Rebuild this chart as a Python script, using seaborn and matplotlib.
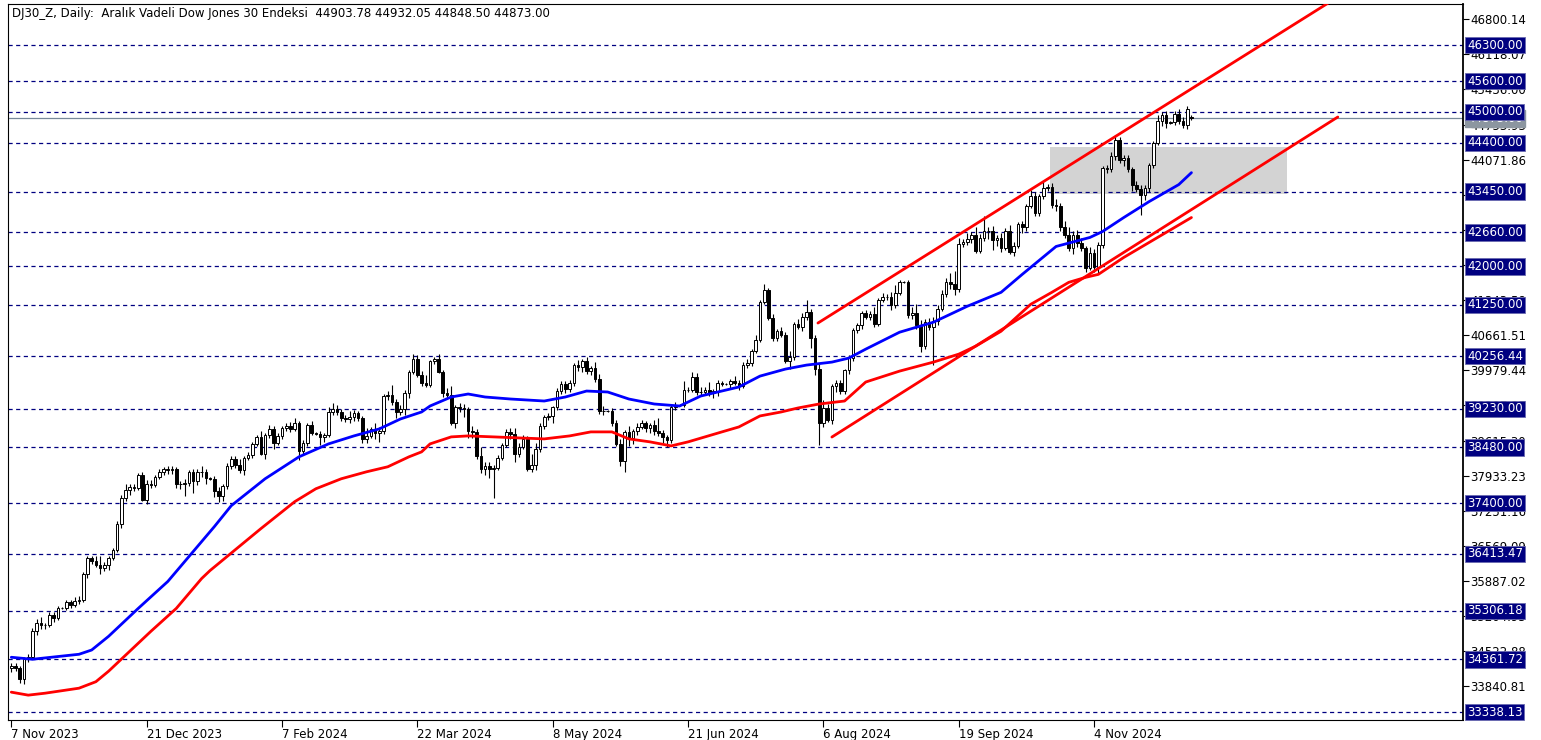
import matplotlib
matplotlib.use("Agg")
import matplotlib.pyplot as plt
from matplotlib.patches import Rectangle
import numpy as np
import seaborn as sns

sns.set_style("white")
plt.rcParams['font.family'] = ['DejaVu Sans']
plt.rcParams['lines.scale_dashes'] = False

# daily bars, DJ30 december futures (index = bar number from 7 Nov 2023)
opens = [
    34190, 34232, 34192, 33972, 34363, 34417, 34908, 35071, 35025, 35027,
    35231, 35168, 35353, 35360, 35470, 35413, 35496, 35510, 36031, 36325,
    36284, 36204, 36134, 36197, 36327, 36484, 36997, 37504, 37655, 37706,
    37701, 37946, 37464, 37780, 37755, 37908, 38013, 38061, 38033, 38053,
    37762, 37766, 37785, 37996, 37832, 37995, 38005, 37880, 37870, 37636,
    37535, 37731, 38119, 38251, 38149, 38043, 38280, 38334, 38551, 38679,
    38356, 38719, 38847, 38567, 38702, 38851, 38894, 38833, 38952, 38421,
    38567, 38910, 38758, 38750, 38682, 38723, 39174, 39230, 39161, 39058,
    39029, 39070, 39154, 39051, 38640, 38709, 38833, 38759, 38800, 39475,
    39506, 39363, 39165, 39234, 39548, 39942, 40205, 39892, 39724, 39686,
    40157, 40198, 39951, 39548, 39498, 38961, 39262, 39243, 39229, 38800,
    38790, 38308, 38053, 38111, 38058, 38073, 38278, 38525, 38782, 38733,
    38351, 38499, 38638, 38062, 38142, 38458, 38902, 39071, 39097, 39262,
    39587, 39706, 39618, 39737, 40081, 40035, 40164, 39960, 40019, 39811,
    39198, 39196, 39190, 38965, 38547, 38212, 38779, 38658, 38791, 38880,
    38953, 38859, 38921, 38794, 38752, 38681, 38616, 39258, 39308, 39301,
    39595, 39604, 39859, 39554, 39562, 39593, 39540, 39586, 39741, 39711,
    39705, 39765, 39728, 39669, 40092, 40118, 40359, 40564, 41300, 41537,
    40998, 40614, 40735, 40672, 40161, 40236, 40883, 40827, 41025, 41117,
    40616, 39999, 38959, 39247, 39006, 39683, 39728, 39581, 39984, 40219,
    40768, 40858, 41089, 41021, 41070, 40886, 41341, 41400, 41404, 41239,
    41477, 41697, 41690, 41059, 41090, 40865, 40447, 40926, 40827, 40944,
    41174, 41464, 41686, 41664, 41554, 42440, 42471, 42525, 42602, 42302,
    42555, 42686, 42696, 42515, 42549, 42357, 42691, 42285, 42404, 42829,
    42764, 43167, 43361, 43029, 43360, 43514, 43544, 43193, 43179, 42761,
    42614, 42347, 42614, 42453, 42354, 41968, 42250, 41985, 42406, 43906,
    43899, 44152, 44449, 44060, 44100, 43886, 43573, 43511, 43383, 43515,
    43970, 44390, 44823, 44940, 44794, 44800, 44969, 44833, 44749, 44903.78,
]
closes = [
    34232, 34192, 33972, 34363, 34417, 34908, 35071, 35025, 35027, 35231,
    35168, 35353, 35360, 35470, 35413, 35496, 35510, 36031, 36325, 36284,
    36204, 36134, 36197, 36327, 36484, 36997, 37504, 37655, 37706, 37701,
    37946, 37464, 37780, 37755, 37908, 38013, 38061, 38033, 38053, 37762,
    37766, 37785, 37996, 37832, 37995, 38005, 37880, 37870, 37636, 37535,
    37731, 38119, 38251, 38149, 38043, 38280, 38334, 38551, 38679, 38356,
    38719, 38847, 38567, 38702, 38851, 38894, 38833, 38952, 38421, 38567,
    38910, 38758, 38750, 38682, 38723, 39174, 39230, 39161, 39058, 39029,
    39070, 39154, 39051, 38640, 38709, 38833, 38759, 38800, 39475, 39506,
    39363, 39165, 39234, 39548, 39942, 40205, 39892, 39724, 39686, 40157,
    40198, 39951, 39548, 39498, 38961, 39262, 39243, 39229, 38800, 38790,
    38308, 38053, 38111, 38058, 38073, 38278, 38525, 38782, 38733, 38351,
    38499, 38638, 38062, 38142, 38458, 38902, 39071, 39097, 39262, 39587,
    39706, 39618, 39737, 40081, 40035, 40164, 39960, 40019, 39811, 39198,
    39196, 39190, 38965, 38547, 38212, 38779, 38658, 38791, 38880, 38953,
    38859, 38921, 38794, 38752, 38681, 38616, 39258, 39308, 39301, 39595,
    39604, 39859, 39554, 39562, 39593, 39540, 39586, 39741, 39711, 39705,
    39765, 39728, 39669, 40092, 40118, 40359, 40564, 41300, 41537, 40998,
    40614, 40735, 40672, 40161, 40236, 40883, 40827, 41025, 41117, 40616,
    39999, 38959, 39247, 39006, 39683, 39728, 39581, 39984, 40219, 40768,
    40858, 41089, 41021, 41070, 40886, 41341, 41400, 41404, 41239, 41477,
    41697, 41690, 41059, 41090, 40865, 40447, 40926, 40827, 40944, 41174,
    41464, 41686, 41664, 41554, 42440, 42471, 42525, 42602, 42302, 42555,
    42686, 42696, 42515, 42549, 42357, 42691, 42285, 42404, 42829, 42764,
    43167, 43361, 43029, 43360, 43514, 43544, 43193, 43179, 42761, 42614,
    42347, 42614, 42453, 42354, 41968, 42250, 41985, 42406, 43906, 43899,
    44152, 44449, 44060, 44100, 43886, 43573, 43511, 43383, 43515, 43970,
    44390, 44823, 44940, 44794, 44800, 44969, 44833, 44749, 45051, 44873.00,
]
# shadow lengths above / below the body (index points)
upper_shadow = [
    60, 70, 40, 40, 50, 60, 80, 110, 40, 50,
    60, 50, 20, 40, 40, 70, 90, 30, 40, 50,
    90, 160, 60, 40, 40, 60, 50, 120, 60, 70,
    40, 60, 60, 60, 40, 50, 40, 60, 60, 40,
    60, 80, 40, 70, 60, 110, 60, 20, 50, 80,
    40, 50, 70, 60, 100, 40, 60, 40, 50, 120,
    40, 70, 60, 60, 50, 60, 80, 110, 50, 60,
    50, 90, 20, 50, 40, 90, 110, 70, 70, 50,
    110, 60, 40, 40, 150, 40, 130, 70, 40, 70,
    180, 60, 80, 40, 40, 100, 70, 70, 160, 30,
    40, 90, 30, 90, 170, 50, 90, 80, 40, 100,
    40, 180, 90, 80, 70, 60, 40, 60, 70, 120,
    60, 90, 60, 210, 100, 60, 40, 50, 30, 40,
    60, 60, 50, 40, 100, 40, 80, 40, 120, 100,
    90, 20, 60, 50, 90, 40, 120, 40, 70, 60,
    50, 40, 90, 250, 60, 50, 60, 60, 20, 170,
    60, 80, 60, 100, 70, 160, 40, 50, 30, 20,
    40, 100, 60, 40, 90, 40, 110, 50, 110, 40,
    70, 50, 90, 60, 110, 40, 90, 60, 220, 60,
    50, 120, 150, 70, 40, 60, 60, 30, 60, 40,
    50, 40, 60, 60, 140, 50, 90, 60, 100, 160,
    40, 20, 40, 110, 170, 90, 60, 70, 80, 80,
    70, 90, 180, 250, 120, 60, 130, 70, 160, 70,
    300, 60, 90, 60, 100, 60, 120, 60, 40, 60,
    40, 120, 90, 40, 150, 50, 80, 120, 60, 110,
    150, 70, 100, 90, 40, 130, 90, 60, 40, 60,
    60, 110, 60, 60, 60, 40, 80, 70, 60, 40,
    40, 110, 60, 70, 20, 40, 80, 70, 60, 28.27,
]
lower_shadow = [
    80, 60, 60, 90, 60, 40, 70, 80, 70, 40,
    70, 40, 20, 30, 60, 40, 60, 40, 80, 60,
    40, 120, 50, 90, 30, 40, 90, 60, 100, 60,
    40, 30, 80, 70, 40, 40, 60, 60, 70, 70,
    90, 220, 60, 240, 80, 90, 100, 20, 110, 110,
    90, 60, 60, 70, 60, 90, 50, 60, 40, 30,
    100, 60, 120, 40, 60, 50, 60, 40, 180, 60,
    60, 40, 20, 160, 100, 40, 60, 50, 60, 60,
    70, 70, 60, 80, 70, 50, 120, 180, 60, 80,
    60, 120, 60, 120, 110, 40, 40, 40, 40, 40,
    60, 30, 80, 60, 40, 100, 70, 160, 140, 120,
    60, 60, 110, 180, 560, 40, 50, 40, 90, 160,
    50, 50, 40, 60, 90, 60, 60, 60, 140, 50,
    70, 80, 60, 60, 60, 80, 60, 80, 60, 60,
    80, 20, 70, 40, 90, 200, 140, 110, 60, 50,
    70, 90, 80, 40, 120, 130, 40, 50, 20, 30,
    40, 50, 50, 50, 60, 60, 100, 110, 40, 20,
    70, 40, 80, 40, 60, 60, 40, 40, 40, 40,
    60, 70, 50, 40, 160, 60, 50, 90, 60, 200,
    120, 430, 80, 40, 60, 120, 60, 60, 70, 60,
    60, 80, 50, 60, 60, 40, 40, 60, 80, 40,
    40, 20, 60, 90, 80, 110, 50, 60, 750, 80,
    40, 60, 100, 120, 60, 70, 60, 80, 50, 40,
    60, 160, 200, 120, 80, 40, 40, 80, 50, 120,
    80, 40, 60, 60, 60, 60, 60, 110, 80, 70,
    50, 110, 80, 60, 80, 40, 100, 120, 50, 80,
    60, 80, 60, 120, 60, 100, 60, 380, 100, 80,
    60, 40, 100, 100, 20, 60, 60, 70, 90, 24.5,
]

# moving averages (bar, value)
blue_bars = [0, 5, 16, 19, 23, 30, 37, 43, 48, 52, 60, 68, 75, 81, 87, 92, 97, 99, 104, 108, 112,
             118, 126, 131, 136, 141, 146, 152, 158, 163, 167, 172, 177, 183, 188, 194, 198, 202, 210, 218, 226,
             234, 239, 247, 255, 258, 263, 269, 276, 279]
blue_ma = [34404, 34365, 34462, 34545, 34811, 35353, 35877, 36458, 36942, 37349, 37872, 38298, 38550, 38705, 38841,
           39034, 39170, 39286, 39461, 39519, 39461, 39422, 39383, 39461, 39577, 39558, 39422, 39325, 39286, 39480,
           39558, 39655, 39867, 40003, 40081, 40139, 40217, 40391, 40720, 40914, 41224, 41495, 41844, 42386, 42561,
           42677, 42948, 43258, 43588, 43820]
red_bars = [0, 4, 8, 16, 20, 23, 27, 33, 39, 45, 47, 59, 67, 72, 78, 84, 89, 94, 97, 99, 104,
            108, 114, 120, 126, 132, 137, 142, 146, 151, 156, 160, 164, 168, 172, 177, 182, 186, 191, 197, 202,
            210, 218, 224, 228, 234, 241, 246, 250, 254, 257, 263, 271, 279]
red_ma = [33726, 33668, 33706, 33803, 33929, 34133, 34443, 34908, 35353, 35934, 36090, 36903, 37427, 37678, 37872,
          38008, 38105, 38298, 38395, 38550, 38686, 38705, 38686, 38666, 38647, 38705, 38783, 38783, 38647, 38589,
          38511, 38589, 38686, 38783, 38879, 39093, 39170, 39248, 39325, 39383, 39752, 39964, 40139, 40294, 40449,
          40739, 41262, 41495, 41689, 41786, 41844, 42173, 42561, 42948]

# drawn objects
upper_line_bars = [190.7, 313.6]
upper_line_prices = [40898, 47233]
lower_line_bars = [194.0, 313.6]
lower_line_prices = [38683, 44901]
zone_bars = [245.6, 301.6]
zone_prices = [43405, 44318]
levels = [46300.00, 45600.00, 45000.00, 44400.00, 43450.00, 42660.00, 42000.00, 41250.00, 40256.44,
          39230.00, 38480.00, 37400.00, 36413.47, 35306.18, 34361.72, 33338.13]
current_price = 44873.00

price_ticks = [46800.14, 46118.07, 45436.00, 44753.93, 44071.86, 43389.79, 42707.72, 42025.65, 41343.58,
               40661.51, 39979.44, 39297.37, 38615.30, 37933.23, 37251.16, 36569.09, 35887.02, 35204.95,
               34522.88, 33840.81]
date_ticks = [0, 32, 64, 96, 128, 160, 192, 224, 256]
date_labels = ['7 Nov 2023', '21 Dec 2023', '7 Feb 2024', '22 Mar 2024', '8 May 2024', '21 Jun 2024',
               '6 Aug 2024', '19 Sep 2024', '4 Nov 2024']
title = 'DJ30_Z, Daily:  Aral\u0131k Vadeli Dow Jones 30 Endeksi  44903.78 44932.05 44848.50 44873.00'

o = np.array(opens, dtype=float)
c = np.array(closes, dtype=float)
hi = np.maximum(o, c) + np.array(upper_shadow, dtype=float)
lo = np.minimum(o, c) - np.array(lower_shadow, dtype=float)
idx = np.arange(len(c))

W, H = 1541, 740
fig = plt.figure(figsize=(W / 100, H / 100), dpi=100)
ax = fig.add_axes([8 / W, (H - 720) / H, (1463 - 8) / W, (720 - 4) / H])
ax.set_xlim(-0.78, 343.2)
ax.set_ylim(33185, 47097)

ax.add_patch(Rectangle((zone_bars[0], zone_prices[0]), zone_bars[1] - zone_bars[0],
                       zone_prices[1] - zone_prices[0], facecolor='#d3d3d3', edgecolor='none', zorder=1))
for lv in levels:
    ax.axhline(lv, color='#000080', lw=0.9, ls=(0, (3, 2.5)), zorder=2)
ax.axhline(current_price, color='#778899', lw=0.9, zorder=2)

# candles
ax.vlines(idx, lo, hi, color='black', lw=0.8, zorder=3)
bull = c >= o
ax.bar(idx[bull], (c - o)[bull], bottom=o[bull], width=0.62, color='white',
       edgecolor='black', linewidth=0.7, zorder=4)
ax.bar(idx[~bull], (c - o)[~bull], bottom=o[~bull], width=0.62, color='black',
       edgecolor='black', linewidth=0.7, zorder=4)

sns.lineplot(x=blue_bars, y=blue_ma, color='#0000ff', lw=2, ax=ax, zorder=5)
sns.lineplot(x=red_bars, y=red_ma, color='#ff0000', lw=2, ax=ax, zorder=5)
ax.plot(upper_line_bars, upper_line_prices, color='#ff0000', lw=2, zorder=6)
ax.plot(lower_line_bars, lower_line_prices, color='#ff0000', lw=2, zorder=6)

# axes look
for s in ax.spines.values():
    s.set_color('black')
    s.set_linewidth(0.8)
ax.spines['right'].set_linewidth(1.3)
ax.yaxis.tick_right()
ax.set_yticks(price_ticks)
ax.set_yticklabels([f'{v:.2f}' for v in price_ticks])
ax.tick_params(axis='y', direction='out', length=4, width=0.8, pad=1.5, labelsize=8.5,
               colors='black', right=True, left=False)
ax.set_xticks(date_ticks)
ax.set_xticklabels(date_labels, ha='left')
ax.tick_params(axis='x', direction='out', length=5, width=0.8, pad=0.5, labelsize=8.5,
               colors='black', bottom=True)
ax.set_xlabel('')
ax.set_ylabel('')

# price boxes on the right scale
box_kw = dict(xycoords=('axes fraction', 'data'), xytext=(3, 0), textcoords='offset points',
              ha='left', va='center', fontsize=8.5, color='white', annotation_clip=False)
ax.annotate(f'{current_price:.2f}', xy=(1, current_price),
            bbox=dict(boxstyle='square,pad=0.15', fc='#8c96a0', ec='#8c96a0'), zorder=9, **box_kw)
for lv in levels:
    ax.annotate(f'{lv:.2f}', xy=(1, lv),
                bbox=dict(boxstyle='square,pad=0.15', fc='#000080', ec='#6a6ab0', lw=0.6),
                zorder=10, **box_kw)

ax.text(4 / 1455, 1 - 9 / 716, title, transform=ax.transAxes, ha='left', va='center',
        fontsize=8.5, color='black', zorder=11)

fig.savefig('out.png', dpi=100)
